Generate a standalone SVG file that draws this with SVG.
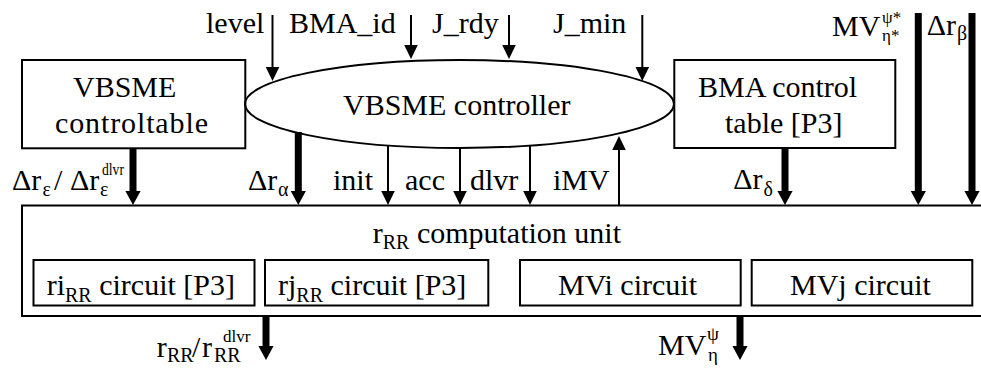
<svg xmlns="http://www.w3.org/2000/svg" width="981" height="368" viewBox="0 0 981 368">
  <style>
    text { font-size: 30px; fill: #000; }
    .sub { font-size: 20px; }
    .sm { font-size: 17px; }
    .box { fill: none; stroke: #000; stroke-width: 2; }
    .thin { stroke: #000; stroke-width: 2; fill: none; }
    .thick { stroke: #000; stroke-width: 7; fill: none; }
  </style>
  <defs>
    <marker id="headThin" markerUnits="userSpaceOnUse" markerWidth="16" markerHeight="16" refX="0" refY="0" viewBox="0 -8 15 16" orient="auto" overflow="visible">
      <path d="M0,-6.8 L14,0 L0,6.8 Z" fill="#000"/>
    </marker>
    <marker id="headThick" markerUnits="userSpaceOnUse" markerWidth="16" markerHeight="16" refX="0" refY="0" viewBox="0 -8 15 16" orient="auto" overflow="visible">
      <path d="M0,-7.6 L14,0 L0,7.6 Z" fill="#000"/>
    </marker>
  </defs>

  <rect width="981" height="368" fill="#fff"/>

  <!-- r_RR computation unit with its four circuits -->
  <g id="rrr-unit">
    <rect class="box" x="22" y="205.5" width="980" height="110.5"/>
    <text style="font-family: 'Liberation Serif', serif" x="372.7" y="243">r<tspan class="sub" dy="6">RR</tspan><tspan dy="-6"> computation unit</tspan></text>
  </g>
  <g id="ri-circuit">
    <rect class="box" x="33.5" y="260" width="221" height="45.5"/>
    <text style="font-family: 'Liberation Serif', serif" x="46.7" y="295">ri<tspan class="sub" dy="7">RR</tspan><tspan dy="-7"> circuit [P3]</tspan></text>
  </g>
  <g id="rj-circuit">
    <rect class="box" x="265" y="260" width="223.3" height="45.5"/>
    <text style="font-family: 'Liberation Serif', serif" x="278" y="295">rj<tspan class="sub" dy="7">RR</tspan><tspan dy="-7"> circuit [P3]</tspan></text>
  </g>
  <g id="mvi-circuit">
    <rect class="box" x="520" y="260" width="220.7" height="45.5"/>
    <text style="font-family: 'Liberation Serif', serif" x="558" y="295">MVi circuit</text>
  </g>
  <g id="mvj-circuit">
    <rect class="box" x="751.7" y="260" width="220.6" height="45.5"/>
    <text style="font-family: 'Liberation Serif', serif" x="790" y="295">MVj circuit</text>
  </g>

  <!-- control tables and controller -->
  <g id="vbsme-table">
    <rect class="box" x="22" y="60" width="223.3" height="88.3"/>
    <text style="font-family: 'Liberation Serif', serif" x="73" y="97">VBSME</text>
    <text style="font-family: 'Liberation Serif', serif" x="55" y="133" textLength="153" lengthAdjust="spacing">controltable</text>
  </g>
  <g id="bma-table">
    <rect class="box" x="674.3" y="60" width="221" height="88"/>
    <text style="font-family: 'Liberation Serif', serif" x="698" y="97">BMA control</text>
    <text style="font-family: 'Liberation Serif', serif" x="725" y="133">table [P3]</text>
  </g>
  <g id="controller">
    <ellipse class="box" cx="459.5" cy="104" rx="214.5" ry="44"/>
    <text style="font-family: 'Liberation Serif', serif" x="343" y="115">VBSME controller</text>
  </g>

  <!-- signal connectors -->
  <g id="connectors">
    <!-- thin control signals -->
    <line class="thin" x1="272.5" y1="15" x2="272.5" y2="67" marker-end="url(#headThin)"/>
    <line class="thin" x1="411" y1="15" x2="411" y2="45" marker-end="url(#headThin)"/>
    <line class="thin" x1="509" y1="15" x2="509" y2="45" marker-end="url(#headThin)"/>
    <line class="thin" x1="642.3" y1="15" x2="642.3" y2="67" marker-end="url(#headThin)"/>
    <line class="thin" x1="388" y1="145" x2="388" y2="191" marker-end="url(#headThin)"/>
    <line class="thin" x1="460" y1="147" x2="460" y2="191" marker-end="url(#headThin)"/>
    <line class="thin" x1="530" y1="145" x2="530" y2="191" marker-end="url(#headThin)"/>
    <line class="thin" x1="619" y1="205" x2="619" y2="150" marker-end="url(#headThin)"/>
    <!-- thick data buses -->
    <line class="thick" x1="133" y1="148" x2="133" y2="191" marker-end="url(#headThick)"/>
    <line class="thick" x1="298.3" y1="132" x2="298.3" y2="191" marker-end="url(#headThick)"/>
    <line class="thick" x1="785" y1="148" x2="785" y2="191" marker-end="url(#headThick)"/>
    <line class="thick" x1="918.3" y1="13" x2="918.3" y2="191" marker-end="url(#headThick)"/>
    <line class="thick" x1="972" y1="13" x2="972" y2="191" marker-end="url(#headThick)"/>
    <line class="thick" x1="266" y1="316" x2="266" y2="346" marker-end="url(#headThick)"/>
    <line class="thick" x1="740" y1="316" x2="740" y2="346" marker-end="url(#headThick)"/>

    <!-- signal labels -->
    <text style="font-family: 'Liberation Serif', serif" x="206" y="33">level</text>
    <text style="font-family: 'Liberation Serif', serif" x="289" y="33">BMA_id</text>
    <text style="font-family: 'Liberation Serif', serif" x="432" y="33">J_rdy</text>
    <text style="font-family: 'Liberation Serif', serif" x="553" y="33">J_min</text>
    <text style="font-family: 'Liberation Serif', serif" x="333" y="190">init</text>
    <text style="font-family: 'Liberation Serif', serif" x="405" y="190">acc</text>
    <text style="font-family: 'Liberation Serif', serif" x="470" y="190">dlvr</text>
    <text style="font-family: 'Liberation Serif', serif" x="553" y="190">iMV</text>

    <text style="font-family: 'Liberation Serif', serif" x="12" y="190">&#916;r</text>
    <text style="font-family: 'Liberation Serif', serif" class="sub" x="42.5" y="196">&#949;</text>
    <text style="font-family: 'Liberation Serif', serif" x="54" y="190">/</text>
    <text style="font-family: 'Liberation Serif', serif" x="70" y="190">&#916;r</text>
    <text style="font-family: 'Liberation Serif', serif" class="sub" x="100" y="196">&#949;</text>
    <text style="font-family: 'Liberation Serif', serif" class="sm" x="102" y="175" textLength="22" lengthAdjust="spacingAndGlyphs">dlvr</text>

    <text style="font-family: 'Liberation Serif', serif" x="248" y="190">&#916;r</text>
    <text style="font-family: 'Liberation Serif', serif" class="sub" x="278" y="196">&#945;</text>

    <text style="font-family: 'Liberation Serif', serif" x="733.3" y="189">&#916;r</text>
    <text style="font-family: 'Liberation Serif', serif" class="sub" x="763.5" y="196">&#948;</text>

    <text style="font-family: 'Liberation Serif', serif" x="832" y="36">MV</text>
    <text style="font-family: 'Liberation Serif', serif" class="sm" x="882" y="23">&#968;*</text>
    <text style="font-family: 'Liberation Serif', serif" class="sm" x="882" y="41">&#951;*</text>

    <text style="font-family: 'Liberation Serif', serif" x="926.7" y="35">&#916;r</text>
    <text style="font-family: 'Liberation Serif', serif" class="sub" x="957" y="40">&#946;</text>

    <text style="font-family: 'Liberation Serif', serif" x="156.7" y="356.7">r</text>
    <text style="font-family: 'Liberation Serif', serif" class="sub" x="167" y="362">RR</text>
    <text style="font-family: 'Liberation Serif', serif" x="192" y="356.7">/</text>
    <text style="font-family: 'Liberation Serif', serif" x="202" y="356.7">r</text>
    <text style="font-family: 'Liberation Serif', serif" class="sub" x="214" y="362">RR</text>
    <text style="font-family: 'Liberation Serif', serif" class="sm" x="223" y="342">dlvr</text>

    <text style="font-family: 'Liberation Serif', serif" x="658" y="355">MV</text>
    <text style="font-family: 'Liberation Serif', serif; font-size:19px" class="sub" x="707" y="340">&#968;</text>
    <text style="font-family: 'Liberation Serif', serif; font-size:19px" class="sub" x="708" y="361">&#951;</text>
  </g>
</svg>
